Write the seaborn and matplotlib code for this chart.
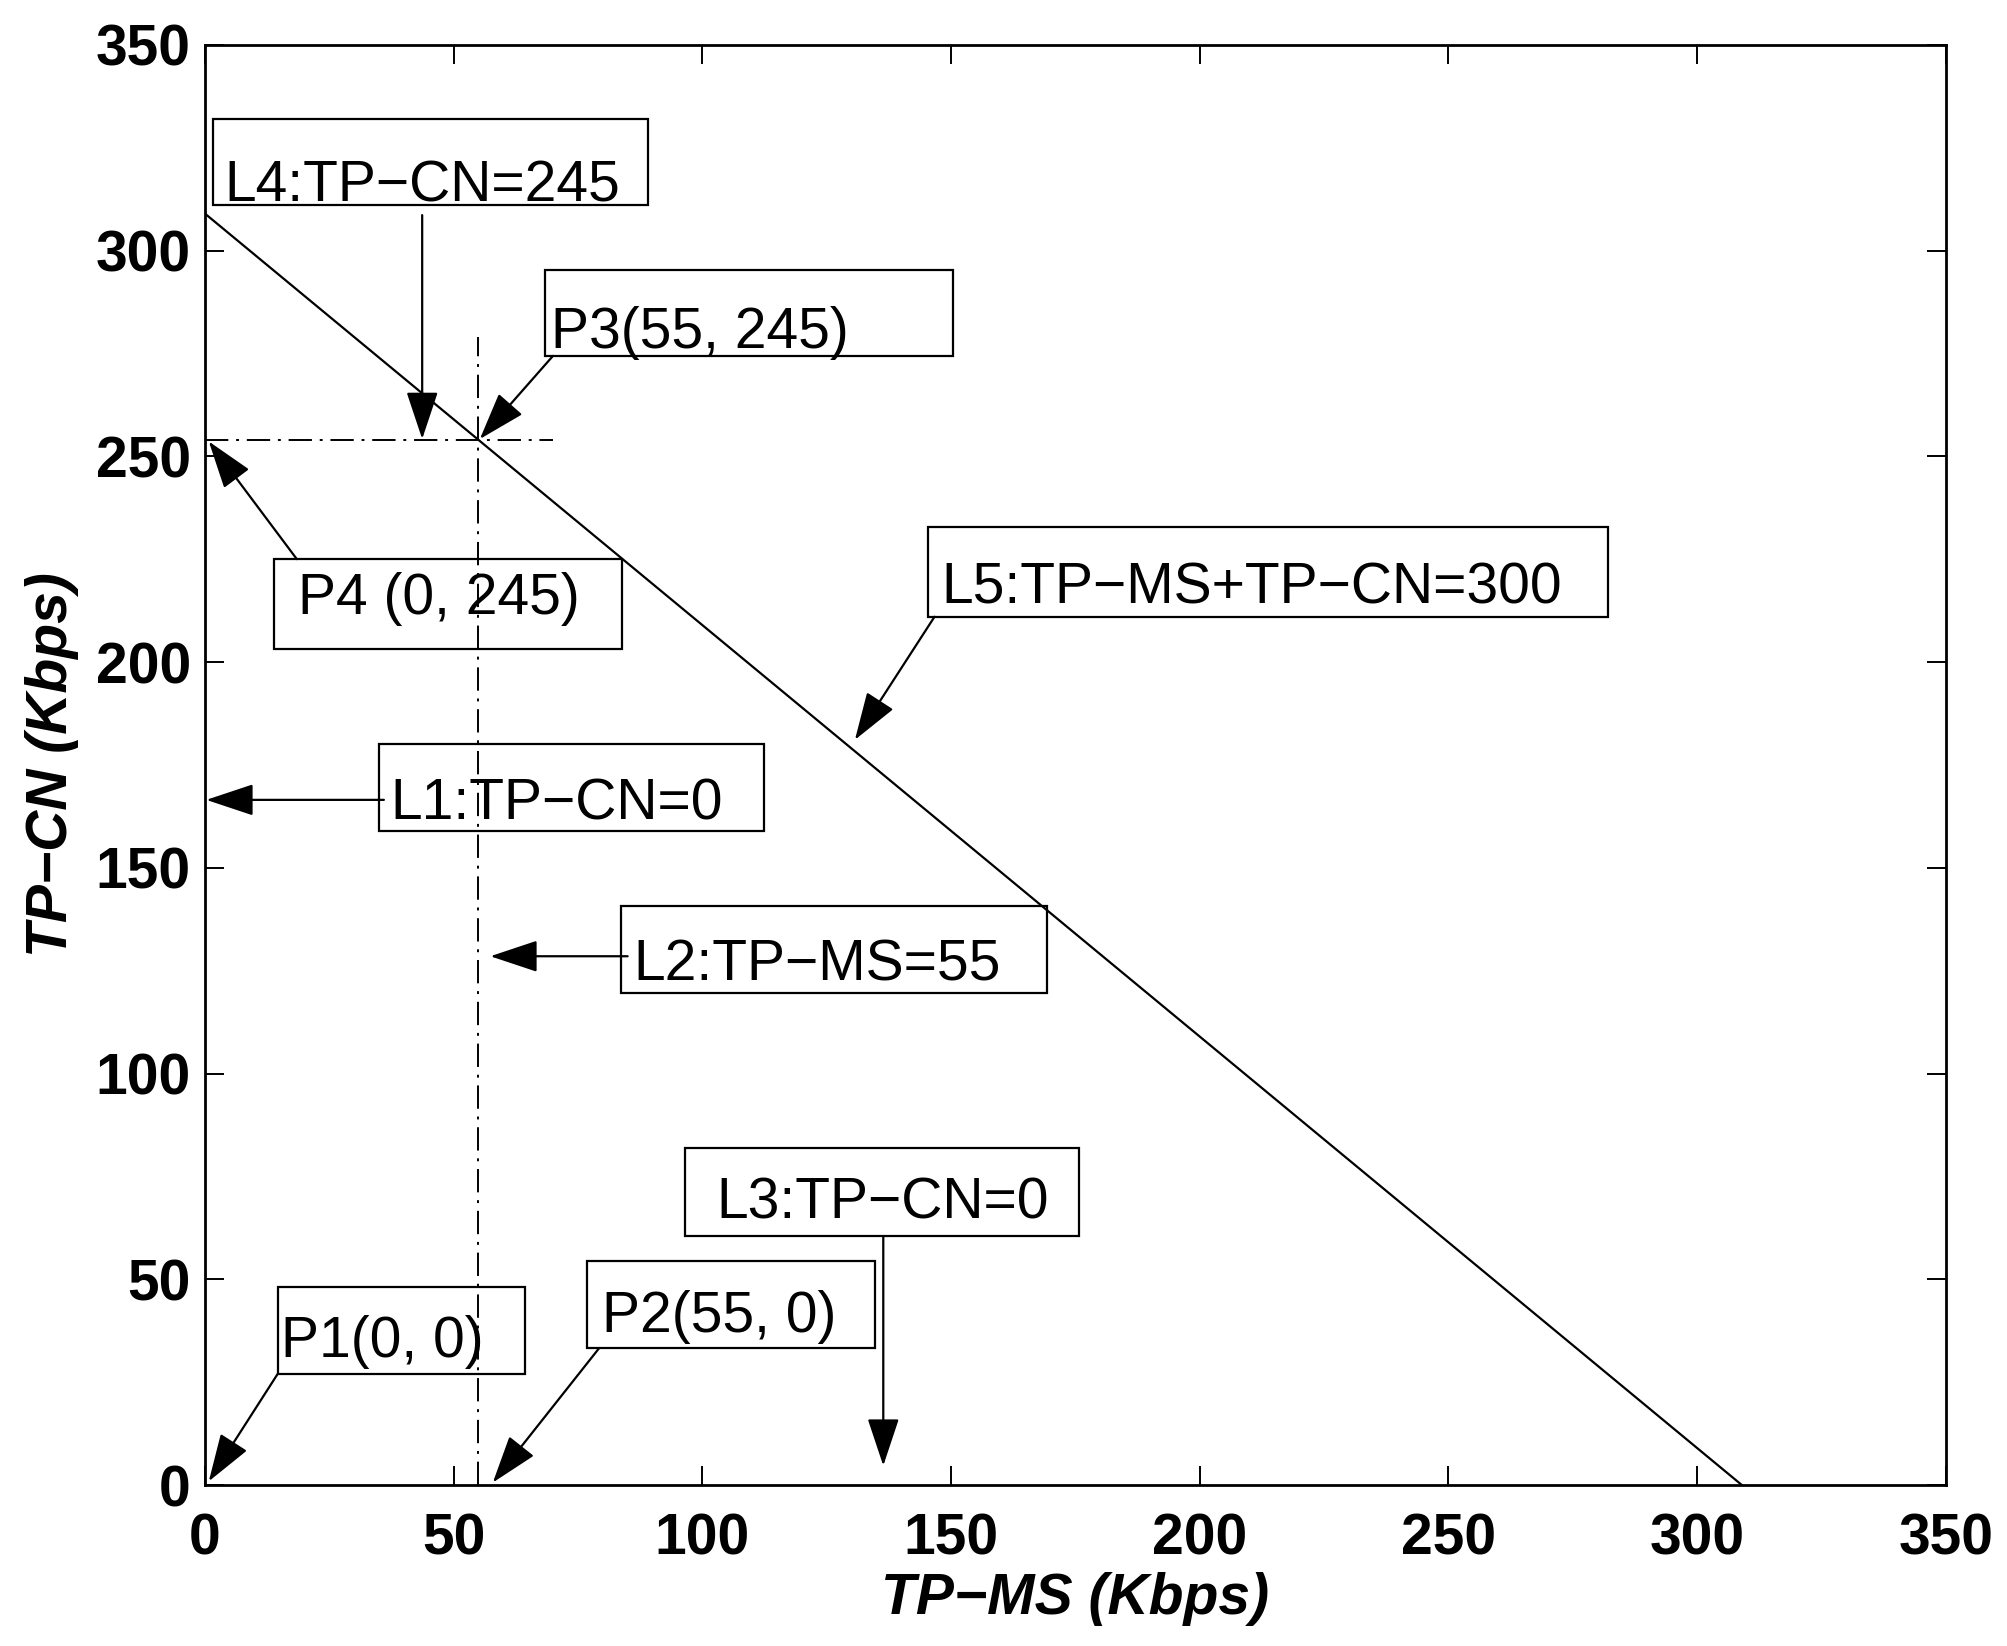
import numpy as np
import pandas as pd
import matplotlib
matplotlib.use("Agg")
import matplotlib.pyplot as plt
from matplotlib.patches import Rectangle
import seaborn as sns

# constraint lines (Kbps)
l5_ms = [0, 309]
l5_cn = [309, 0]
l4_ms = [0, 70]
l4_cn = [254, 254]
l2_ms = [55, 55]
l2_cn = [0, 279]

ticks = [0, 50, 100, 150, 200, 250, 300, 350]

# annotations: text, text anchor (left, baseline), box (x0, y0, x1, y1), arrow tail, arrow tip
labels = ["L4:TP\u2212CN=245", "P3(55, 245)", "P4 (0, 245)", "L5:TP\u2212MS+TP\u2212CN=300",
          "L1:TP\u2212CN=0", "L2:TP\u2212MS=55", "L3:TP\u2212CN=0", "P2(55, 0)", "P1(0, 0)"]
text_xy = [(3.9, 312.0), (69.5, 276.3), (18.8, 211.6), (148.0, 214.1),
           (37.3, 161.8), (86.2, 122.6), (102.9, 64.7), (79.8, 37.3), (15.4, 31.1)]
boxes = [(1.6, 311.1, 89.1, 332.0), (68.4, 274.4, 150.5, 295.3), (13.9, 203.2, 83.9, 225.0),
         (145.4, 211.0, 282.0, 232.7), (35.0, 159.0, 112.5, 180.0), (83.6, 119.5, 169.3, 140.6),
         (96.5, 60.4, 175.8, 81.8), (76.9, 33.3, 134.8, 54.4), (14.7, 27.1, 64.3, 48.2)]
tails = [(43.7, 308.6), (70.0, 274.4), (18.5, 225.0), (146.7, 211.0), (36.0, 166.5),
         (85.0, 128.5), (136.4, 60.4), (79.3, 33.3), (14.7, 27.1)]
tips = [(43.7, 254.2), (55.3, 254.2), (0.8, 253.6), (130.7, 181.1), (0.3, 166.5),
        (57.4, 128.5), (136.4, 4.7), (57.9, 0.6), (0.8, 0.9)]

sns.set_style("ticks")
plt.rcParams['font.family'] = ['Liberation Sans', 'DejaVu Sans']
plt.rcParams.update({"text.color": "black", "axes.labelcolor": "black",
                     "xtick.color": "black", "ytick.color": "black"})

fig = plt.figure(figsize=(20.08, 16.46), dpi=100)
ax = fig.add_axes([0.102, 0.0978, 0.867, 0.875])

dashdot = (0, (12, 4, 1.5, 4))
sns.lineplot(x=l5_ms, y=l5_cn, ax=ax, color="black", lw=1.6, estimator=None, sort=False)
sns.lineplot(x=l4_ms, y=l4_cn, ax=ax, color="black", lw=1.4, estimator=None, sort=False,
             linestyle=dashdot)
sns.lineplot(x=l2_ms, y=l2_cn, ax=ax, color="black", lw=1.4, estimator=None, sort=False,
             linestyle=dashdot)

for lab, (tx, ty), (x0, y0, x1, y1), tail, tip in zip(labels, text_xy, boxes, tails, tips):
    ax.add_patch(Rectangle((x0, y0), x1 - x0, y1 - y0, fill=False, ec="black", lw=1.6, zorder=3))
    ax.text(tx, ty, lab, fontsize=41, va="baseline", ha="left", color="black", zorder=4)
    ax.annotate("", xy=tip, xytext=tail,
                arrowprops=dict(arrowstyle="-|>,head_length=1.5,head_width=0.5",
                                mutation_scale=20, color="black", lw=1.6,
                                shrinkA=0, shrinkB=0))

ax.set_xlim(0, 350)
ax.set_ylim(0, 350)
ax.set_xticks(ticks)
ax.set_yticks(ticks)
ax.tick_params(axis="both", direction="in", length=14, width=1.4, top=True, right=True,
               labelsize=41, colors="black")
ax.tick_params(axis="x", pad=20)
ax.tick_params(axis="y", pad=10)
for t in ax.get_xticklabels() + ax.get_yticklabels():
    t.set_fontweight("bold")
for sp in ax.spines.values():
    sp.set_linewidth(2)
    sp.set_color("black")

ax.set_xlabel("TP\u2212MS (Kbps)", fontsize=41, fontweight="bold", fontstyle="italic", labelpad=4)
ax.set_ylabel("TP\u2212CN (Kbps)", fontsize=41, fontweight="bold", fontstyle="italic", labelpad=12)

fig.savefig("out.png", dpi=100)
